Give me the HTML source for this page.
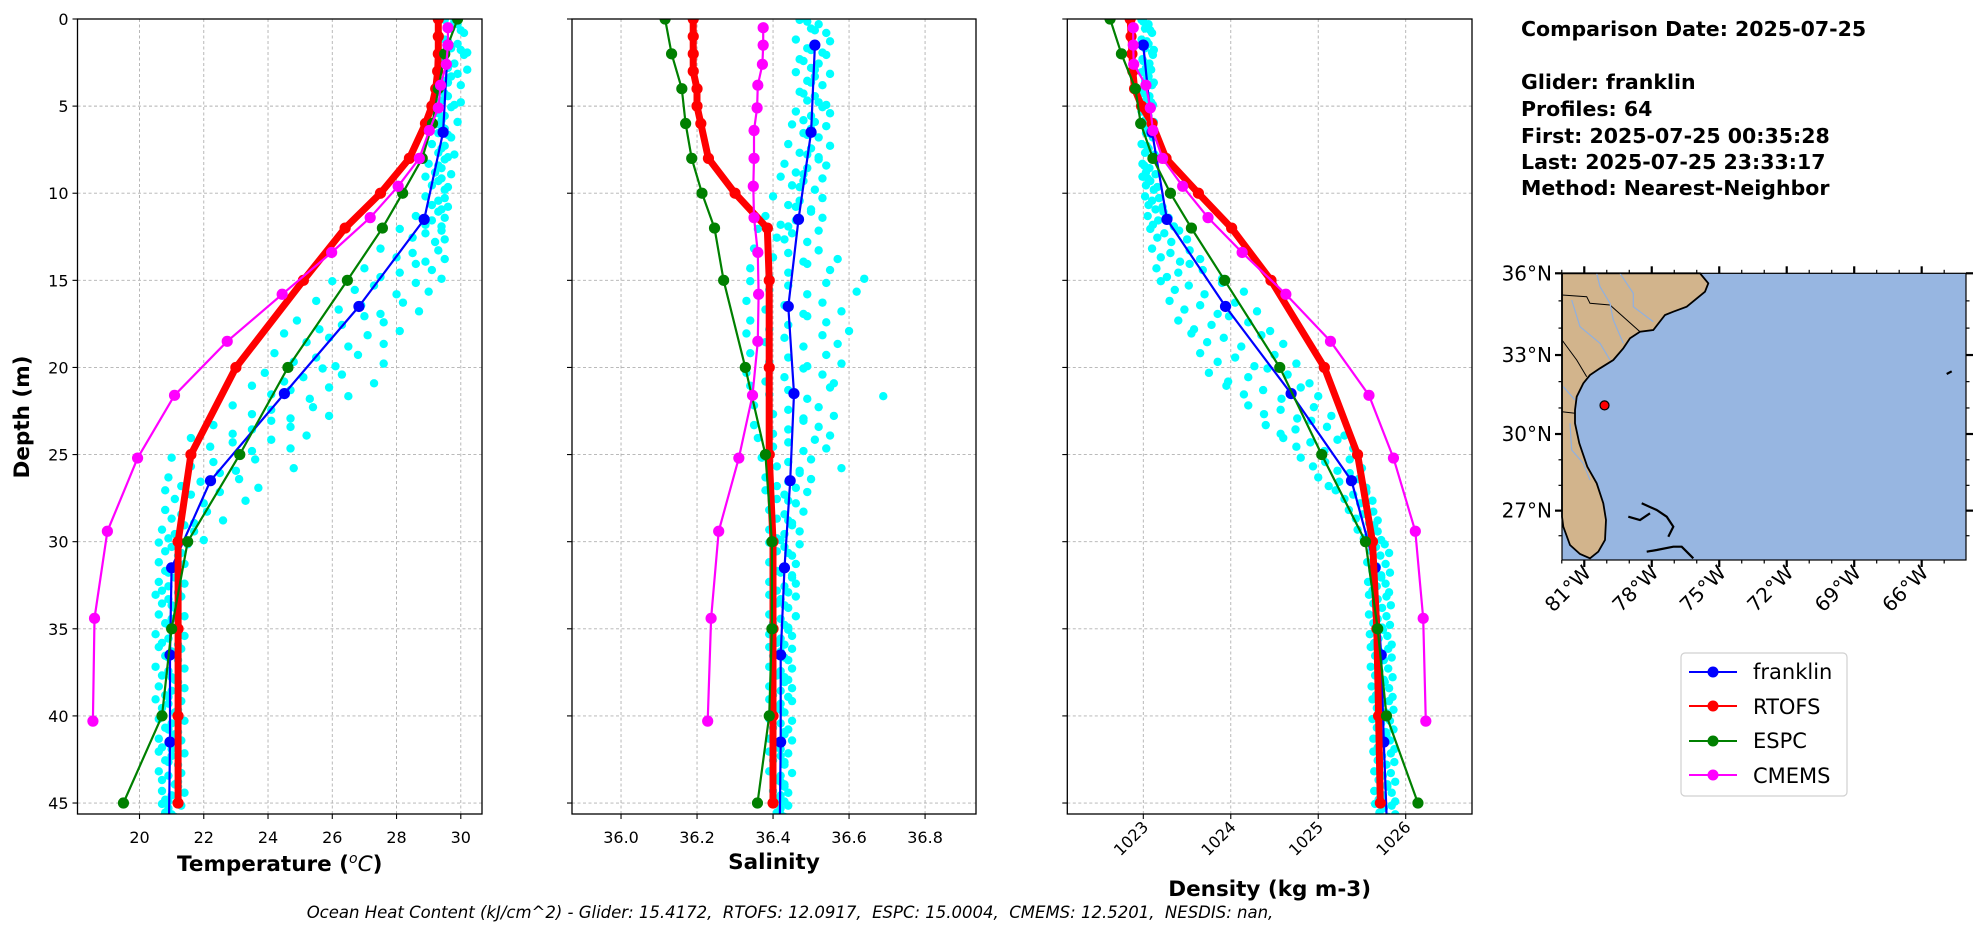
<!DOCTYPE html>
<html><head><meta charset="utf-8"><title>Glider vs Models</title>
<style>
html,body{margin:0;padding:0;background:#fff;}
svg{display:block;font-family:"DejaVu Sans","Liberation Sans",sans-serif;}
</style></head>
<body>
<svg id="fig" width="1978" height="934" viewBox="0 0 1978 934" xmlns="http://www.w3.org/2000/svg">
<rect x="0" y="0" width="1978" height="934" fill="#fff"/>
<g id="panels"></g>
<g id="map"></g>
<g font-weight="bold" font-size="20.5" fill="#000">
<text x="1521" y="36">Comparison Date: 2025-07-25</text>
<text x="1521" y="89">Glider: franklin</text>
<text x="1521" y="116">Profiles: 64</text>
<text x="1521" y="143">First: 2025-07-25 00:35:28</text>
<text x="1521" y="169">Last: 2025-07-25 23:33:17</text>
<text x="1521" y="195">Method: Nearest-Neighbor</text>
</g>
<g>
<rect x="1681" y="653" width="166" height="143" rx="4" fill="#fff" stroke="#d0d0d0" stroke-width="1.2"/>
<g><line x1="1689" y1="672" x2="1737" y2="672" stroke="#0000ff" stroke-width="2"/><circle cx="1713" cy="672" r="5.5" fill="#0000ff"/><text x="1753" y="679" font-size="21">franklin</text></g>
<g><line x1="1689" y1="706" x2="1737" y2="706" stroke="#ff0000" stroke-width="2"/><circle cx="1713" cy="706" r="5.5" fill="#ff0000"/><text x="1753" y="714" font-size="21">RTOFS</text></g>
<g><line x1="1689" y1="741" x2="1737" y2="741" stroke="#008000" stroke-width="2"/><circle cx="1713" cy="741" r="5.5" fill="#008000"/><text x="1753" y="748" font-size="21">ESPC</text></g>
<g><line x1="1689" y1="775" x2="1737" y2="775" stroke="#ff00ff" stroke-width="2"/><circle cx="1713" cy="775" r="5.5" fill="#ff00ff"/><text x="1753" y="783" font-size="21">CMEMS</text></g>
</g>
<text x="790" y="918" text-anchor="middle" font-size="16.5" font-style="italic" style="white-space:pre" xml:space="preserve">Ocean Heat Content (kJ/cm^2) - Glider: 15.4172,  RTOFS: 12.0917,  ESPC: 15.0004,  CMEMS: 12.5201,  NESDIS: nan,</text>
</svg>
<script>
// ---------- data ----------
const rtofsDepth = [0,1,2,3,4,5,6,8,10,12,15,20,25,30,35,40,45];
const rtofsTemp  = [29.3,29.3,29.3,29.28,29.22,29.1,28.9,28.4,27.5,26.4,25.1,23.0,21.6,21.2,21.2,21.2,21.2];
const rtofsSal   = [36.19,36.19,36.19,36.19,36.2,36.2,36.21,36.23,36.3,36.385,36.39,36.39,36.39,36.4,36.4,36.4,36.4];
const rtofsDen   = [1022.85,1022.86,1022.87,1022.88,1022.9,1022.98,1023.1,1023.26,1023.63,1024.01,1024.46,1025.07,1025.45,1025.62,1025.67,1025.69,1025.71];

const gliderDepth = [1.5,6.5,11.5,16.5,21.5,26.5,31.5,36.5,41.5,45.6];
const gliderTemp  = [29.6,29.45,28.86,26.83,24.51,22.21,21.0,20.95,20.95,20.92];
const gliderSal   = [36.51,36.5,36.467,36.44,36.455,36.445,36.43,36.42,36.42,36.418];
const gliderDen   = [1023.0,1023.1,1023.27,1023.94,1024.69,1025.38,1025.65,1025.72,1025.75,1025.78];

const espcDepth = [0,2,4,6,8,10,12,15,20,25,30,35,40,45];
const espcTemp  = [29.9,29.5,29.3,29.12,28.8,28.19,27.56,26.47,24.62,23.12,21.5,21.0,20.7,19.5];
const espcSal   = [36.116,36.133,36.16,36.17,36.186,36.213,36.246,36.27,36.327,36.38,36.397,36.397,36.39,36.359];
const espcDen   = [1022.62,1022.75,1022.91,1022.97,1023.11,1023.31,1023.55,1023.93,1024.56,1025.04,1025.54,1025.68,1025.78,1026.14];

const cmemsDepth = [0.5,1.5,2.6,3.8,5.1,6.4,8.0,9.6,11.4,13.4,15.8,18.5,21.6,25.2,29.4,34.4,40.3];
const cmemsTemp  = [29.6,29.6,29.55,29.37,29.3,29.02,28.71,28.05,27.18,25.98,24.44,22.73,21.09,19.94,19.0,18.6,18.55];
const cmemsSal   = [36.374,36.374,36.372,36.36,36.358,36.35,36.35,36.348,36.35,36.36,36.362,36.36,36.346,36.31,36.257,36.237,36.228];
const cmemsDen   = [1022.885,1022.885,1022.89,1023.03,1023.08,1023.11,1023.22,1023.45,1023.74,1024.13,1024.63,1025.14,1025.58,1025.86,1026.11,1026.2,1026.23];

// glider scatter: one row per 1-m depth bin (0..45), six samples each
const scatterBins = [0,1,2,3,4,5,6,7,8,9,10,11,12,13,14,15,16,17,18,19,20,21,22,23,24,25,26,27,28,29,30,31,32,33,34,35,36,37,38,39,40,41,42,43,44,45];
const scatterTemp = [
[29.5,29.7,29.9,30.1,29.8,30.0],[29.5,29.7,29.9,30.2,29.6,30.0],[29.4,29.6,29.8,30.1,29.5,30.2],[29.3,29.5,29.7,30.0,29.9,29.6],
[29.3,29.4,29.6,29.8,29.5,30.0],[29.2,29.4,29.5,29.7,29.3,29.9],[29.2,29.3,29.5,29.7,29.4,29.6],[29.1,29.3,29.4,29.6,29.5,29.8],
[29.0,29.2,29.4,29.5,29.3,29.7],[28.9,29.1,29.3,29.5,29.4,29.6],[28.9,29.1,29.3,29.4,29.5,29.6],[28.6,28.9,29.1,29.3,29.5,29.4],
[28.1,28.5,28.9,29.2,29.4,29.5],[27.5,28.0,28.5,28.9,29.3,29.5],[27.0,27.5,28.1,28.6,29.1,29.4],[26.0,26.7,27.3,28.0,28.6,29.0],
[25.5,26.2,26.9,27.5,28.2,28.7],[24.9,25.6,26.3,27.0,27.6,28.1],[24.5,25.2,25.9,26.5,27.1,27.6],[24.2,24.8,25.5,26.1,26.8,27.6],
[23.9,24.5,25.1,25.7,26.3,27.3],[23.5,24.1,24.7,25.3,25.9,26.5],[22.9,23.5,24.1,24.7,25.4,25.9],[22.3,22.9,23.5,24.1,24.7,25.2],
[21.6,22.2,22.9,23.5,24.1,24.7],[21.0,21.6,22.3,23.0,23.6,24.8],[20.9,21.3,21.9,22.5,23.1,23.7],[20.8,21.1,21.6,22.0,22.5,23.3],
[20.8,21.0,21.3,21.7,22.1,22.6],[20.7,20.9,21.1,21.4,21.7,22.0],[20.6,20.8,21.0,21.2,21.5,21.3],[20.6,20.8,21.0,21.2,21.4,20.9],
[20.6,20.7,20.9,21.1,21.4,21.2],[20.5,20.7,20.9,21.1,21.3,21.0],[20.6,20.8,21.0,21.2,21.4,20.9],[20.5,20.7,20.9,21.1,21.4,21.2],
[20.6,20.8,21.0,21.2,21.3,20.9],[20.5,20.7,20.9,21.1,21.4,21.0],[20.6,20.8,21.0,21.2,21.4,20.9],[20.5,20.7,20.9,21.1,21.3,21.2],
[20.6,20.8,21.0,21.2,21.4,20.9],[20.6,20.7,20.9,21.1,21.3,21.0],[20.6,20.8,21.0,21.2,21.4,20.9],[20.6,20.7,20.9,21.1,21.3,21.2],
[20.7,20.8,21.0,21.2,21.4,20.9],[20.7,20.8,20.9,21.1,21.3,21.0]];
const scatterSal = [
[36.47,36.50,36.52,36.54,36.49,36.51],[36.46,36.49,36.51,36.53,36.55,36.50],[36.47,36.50,36.52,36.54,36.48,36.51],[36.46,36.49,36.51,36.53,36.55,36.50],
[36.47,36.49,36.51,36.54,36.48,36.52],[36.46,36.48,36.50,36.53,36.55,36.51],[36.45,36.48,36.50,36.52,36.54,36.49],[36.44,36.47,36.50,36.52,36.55,36.49],
[36.43,36.46,36.49,36.52,36.54,36.48],[36.42,36.45,36.48,36.51,36.53,36.47],[36.40,36.44,36.47,36.50,36.53,36.46],[36.38,36.42,36.46,36.50,36.53,36.44],
[36.36,36.41,36.45,36.49,36.52,36.43],[36.35,36.40,36.44,36.48,36.52,36.57],[36.34,36.39,36.44,36.49,36.55,36.64],[36.34,36.39,36.44,36.49,36.54,36.62],
[36.33,36.38,36.43,36.48,36.53,36.58],[36.34,36.39,36.44,36.49,36.54,36.60],[36.33,36.38,36.43,36.48,36.53,36.57],[36.34,36.39,36.44,36.49,36.54,36.58],
[36.33,36.38,36.43,36.48,36.53,36.56],[36.34,36.39,36.44,36.49,36.55,36.69],[36.35,36.40,36.44,36.48,36.52,36.56],[36.35,36.40,36.44,36.48,36.52,36.55],
[36.36,36.40,36.44,36.48,36.51,36.54],[36.37,36.41,36.44,36.47,36.50,36.58],[36.38,36.41,36.44,36.47,36.50,36.46],[36.38,36.41,36.43,36.46,36.49,36.44],
[36.39,36.41,36.43,36.45,36.48,36.44],[36.39,36.41,36.43,36.45,36.47,36.42],[36.39,36.41,36.43,36.45,36.47,36.44],[36.39,36.41,36.43,36.45,36.46,36.42],
[36.39,36.41,36.43,36.45,36.46,36.44],[36.39,36.41,36.42,36.44,36.46,36.43],[36.39,36.40,36.42,36.44,36.46,36.43],[36.39,36.41,36.42,36.44,36.45,36.43],
[36.39,36.40,36.42,36.44,36.45,36.43],[36.39,36.41,36.42,36.44,36.45,36.43],[36.39,36.40,36.42,36.43,36.45,36.44],[36.39,36.41,36.42,36.43,36.45,36.42],
[36.39,36.40,36.42,36.43,36.45,36.44],[36.39,36.41,36.42,36.43,36.45,36.42],[36.39,36.40,36.42,36.43,36.44,36.43],[36.39,36.41,36.42,36.43,36.45,36.42],
[36.40,36.41,36.42,36.43,36.44,36.43],[36.40,36.41,36.42,36.43,36.44,36.42]];
const scatterDen = [
[1022.98,1023.02,1023.06,1023.10,1023.0,1023.08],[1022.98,1023.02,1023.06,1023.10,1023.04,1023.12],[1022.99,1023.03,1023.07,1023.11,1023.0,1023.09],[1022.98,1023.02,1023.06,1023.10,1023.04,1023.12],
[1022.99,1023.03,1023.07,1023.11,1023.01,1023.09],[1022.98,1023.02,1023.06,1023.10,1023.04,1023.12],[1022.99,1023.03,1023.07,1023.11,1023.01,1023.10],[1022.98,1023.02,1023.06,1023.10,1023.04,1023.13],
[1022.99,1023.03,1023.07,1023.11,1023.01,1023.14],[1022.99,1023.03,1023.08,1023.12,1023.05,1023.16],[1023.02,1023.06,1023.10,1023.14,1023.18,1023.22],[1023.05,1023.11,1023.17,1023.23,1023.29,1023.35],
[1023.08,1023.16,1023.24,1023.32,1023.41,1023.50],[1023.10,1023.20,1023.31,1023.42,1023.53,1023.65],[1023.15,1023.27,1023.40,1023.53,1023.68,1023.90],[1023.20,1023.36,1023.52,1023.70,1023.90,1024.15],
[1023.30,1023.47,1023.65,1023.85,1024.05,1024.30],[1023.40,1023.58,1023.78,1023.98,1024.20,1024.45],[1023.55,1023.73,1023.92,1024.12,1024.35,1024.60],[1023.65,1023.85,1024.05,1024.27,1024.50,1024.75],
[1023.75,1023.97,1024.20,1024.42,1024.65,1024.90],[1023.95,1024.15,1024.37,1024.58,1024.80,1025.00],[1024.20,1024.38,1024.57,1024.76,1024.95,1025.15],[1024.40,1024.57,1024.74,1024.92,1025.10,1025.30],
[1024.60,1024.75,1024.91,1025.07,1025.22,1025.40],[1024.80,1024.94,1025.08,1025.22,1025.36,1025.50],[1025.00,1025.12,1025.24,1025.36,1025.46,1025.55],[1025.20,1025.30,1025.40,1025.48,1025.55,1025.62],
[1025.35,1025.43,1025.51,1025.58,1025.63,1025.68],[1025.45,1025.52,1025.58,1025.64,1025.68,1025.72],[1025.55,1025.61,1025.66,1025.71,1025.76,1025.81],[1025.56,1025.62,1025.67,1025.72,1025.77,1025.82],
[1025.57,1025.62,1025.67,1025.72,1025.77,1025.81],[1025.58,1025.63,1025.68,1025.73,1025.78,1025.83],[1025.58,1025.63,1025.68,1025.73,1025.78,1025.82],[1025.59,1025.64,1025.69,1025.74,1025.79,1025.84],
[1025.60,1025.65,1025.70,1025.75,1025.80,1025.84],[1025.60,1025.65,1025.70,1025.75,1025.80,1025.85],[1025.61,1025.66,1025.71,1025.76,1025.81,1025.85],[1025.62,1025.67,1025.72,1025.77,1025.81,1025.86],
[1025.62,1025.67,1025.72,1025.77,1025.82,1025.86],[1025.63,1025.68,1025.73,1025.78,1025.82,1025.87],[1025.63,1025.68,1025.73,1025.78,1025.83,1025.87],[1025.64,1025.69,1025.74,1025.79,1025.83,1025.88],
[1025.64,1025.69,1025.74,1025.79,1025.84,1025.88],[1025.65,1025.70,1025.75,1025.80,1025.84,1025.88]];

const depthTicks = [0,5,10,15,20,25,30,35,40,45];
const tempTicks = [20,22,24,26,28,30];
const salTicks = [36.0,36.2,36.4,36.6,36.8];
const denTicks = [1023,1024,1025,1026];
const latTicks = [36,33,30,27];
const lonTicks = [-81,-78,-75,-72,-69,-66];
const gliderLon = [-80.1];
const gliderLat = [31.1];

// ---------- helpers ----------
const NS = "http://www.w3.org/2000/svg";
function el(tag, attrs, parent){
  const e = document.createElementNS(NS, tag);
  for (const k in attrs) e.setAttribute(k, attrs[k]);
  parent.appendChild(e);
  return e;
}
const TOP = 19, BOT = 814, D0 = 0, D1 = 45.63;
function yD(d){ return TOP + (d - D0) / (D1 - D0) * (BOT - TOP); }
const depthJitter = [0.05,0.55,0.3,0.8,0.15,0.65];

const panelsG = document.getElementById('panels');

function drawPanel(opt){
  const g = el('g', {}, panelsG);
  
  
  const L = opt.left, R = opt.right;
  const xS = v => L + (v - opt.xmin) / (opt.xmax - opt.xmin) * (R - L);
  depthTicks.forEach(d => {
    const ln = el('line', {x1:L, x2:R, y1:yD(d), y2:yD(d), stroke:'#b0b0b0', 'stroke-width':0.9, 'stroke-dasharray':'3,2.5'}, g);
    
    
  });
  opt.ticks.forEach(t => {
    const ln = el('line', {x1:xS(t), x2:xS(t), y1:TOP, y2:BOT, stroke:'#b0b0b0', 'stroke-width':0.9, 'stroke-dasharray':'3,2.5'}, g);
    
    
  });
  const cid = 'clip-' + opt.name;
  const cp = el('clipPath', {id:cid}, g);
  el('rect', {x:L, y:TOP, width:R-L, height:BOT-TOP}, cp);
  const plot = el('g', {'clip-path':'url(#'+cid+')'}, g);
  const sg = el('g', {fill:'#00ffff'}, plot);
  
  
  scatterBins.forEach((b, i) => {
    opt.scatter[i].forEach((v, k) => {
      const off = (depthJitter[k] + (i % 3) * 0.13) % 1;
      const c = el('circle', {cx:xS(v), cy:yD(b + off), r:4.2}, sg);
      
      
    });
  });
  const series = [
    {name:'franklin-line', d:gliderDepth, v:opt.glider, c:'#0000ff', w:2.2, r:5.6, skipLast:true},
    {name:'rtofs-line', d:rtofsDepth, v:opt.rtofs, c:'#ff0000', w:7, r:5.6},
    {name:'espc-line', d:espcDepth, v:opt.espc, c:'#008000', w:2.2, r:5.6},
    {name:'cmems-line', d:cmemsDepth, v:opt.cmems, c:'#ff00ff', w:2.2, r:5.6}
  ];
  series.forEach(s => {
    const sgp = el('g', {}, plot);
    
    
    const pts = s.v.map((v, i) => xS(v).toFixed(1) + ',' + yD(s.d[i]).toFixed(1)).join(' ');
    el('polyline', {points:pts, fill:'none', stroke:s.c, 'stroke-width':s.w, 'stroke-linejoin':'round', 'stroke-linecap':'round'}, sgp);
    s.v.forEach((v, i) => {
      if (s.skipLast && i === s.v.length - 1) return;
      const m = el('circle', {cx:xS(v), cy:yD(s.d[i]), r:s.r, fill:s.c}, sgp);
      
      
    });
  });
  const fr = el('rect', {x:L, y:TOP, width:R-L, height:BOT-TOP, fill:'none', stroke:'#000', 'stroke-width':1.3}, g);
  
  
  depthTicks.forEach(d => {
    el('line', {x1:L-5, x2:L, y1:yD(d), y2:yD(d), stroke:'#000', 'stroke-width':1.1}, g);
    if (opt.yLabels) {
      const t = el('text', {x:L-9, y:yD(d)+6, 'text-anchor':'end', 'font-size':16}, g);
      t.textContent = d;
      
      
    }
  });
  opt.ticks.forEach(v => {
    el('line', {x1:xS(v), x2:xS(v), y1:BOT, y2:BOT+5, stroke:'#000', 'stroke-width':1.1}, g);
    let t;
    if (opt.rotate) {
      t = el('text', {x:xS(v)+6, y:BOT+14, 'text-anchor':'end', 'font-size':16, transform:'rotate(-45 '+(xS(v)+6)+' '+(BOT+14)+')'}, g);
    } else {
      t = el('text', {x:xS(v), y:BOT+29, 'text-anchor':'middle', 'font-size':16}, g);
    }
    t.textContent = opt.fmt(v);
    
    
  });
  const xl = el('text', {x:(L+R)/2, y:opt.labelY, 'text-anchor':'middle', 'font-size':21.5, 'font-weight':'bold'}, g);
  xl.innerHTML = opt.label;
  
  
}

drawPanel({name:'temperature-panel', left:77.5, right:482, xmin:18.07, xmax:30.66, ticks:tempTicks, fmt:v=>String(v),
  scatter:scatterTemp, glider:gliderTemp, rtofs:rtofsTemp, espc:espcTemp, cmems:cmemsTemp, yLabels:true,
  label:'Temperature (<tspan font-style="italic" font-weight="normal" dy="-8" font-size="14">o</tspan><tspan dy="8" font-style="italic" font-weight="normal">C</tspan>)', labelY:871});
drawPanel({name:'salinity-panel', left:572, right:976, xmin:35.871, xmax:36.934, ticks:salTicks, fmt:v=>v.toFixed(1),
  scatter:scatterSal, glider:gliderSal, rtofs:rtofsSal, espc:espcSal, cmems:cmemsSal, yLabels:false,
  label:'Salinity', labelY:869});
drawPanel({name:'density-panel', left:1067.3, right:1472, xmin:1022.131, xmax:1026.758, ticks:denTicks, fmt:v=>String(v),
  scatter:scatterDen, glider:gliderDen, rtofs:rtofsDen, espc:espcDen, cmems:cmemsDen, yLabels:false, rotate:true,
  label:'Density (kg m-3)', labelY:896});

const yt = el('text', {x:0, y:0, 'text-anchor':'middle', 'font-size':21.5, 'font-weight':'bold', transform:'translate(29,417) rotate(-90)'}, panelsG);
yt.textContent = 'Depth (m)';



// ---------- map ----------
const mapG = document.getElementById('map');
const ML = 1562, MR = 1966, MT = 273.3, MB = 560;
const LON0 = -81.99, LON1 = -64.03;
function merc(lat){ return Math.log(Math.tan(Math.PI/4 + lat*Math.PI/360)); }
const mx = lon => ML + (lon - LON0) / (LON1 - LON0) * (MR - ML);
const my = lat => MT + (merc(36) - merc(lat)) * 1286;
const ocean = el('rect', {x:ML, y:MT, width:MR-ML, height:MB-MT, fill:'#97b6e1'}, mapG);


const P = (a) => a.map(p => (1500 + p[0]/3).toFixed(1) + ',' + (250 + p[1]/3).toFixed(1)).join(' ');
const land = el('polygon', {points:P([[186,70],[600,70],[625,100],[615,125],[560,170],[520,185],[495,195],[460,240],[420,245],[390,265],[370,295],[340,330],[300,355],[270,375],[250,400],[230,440],[225,480],[225,520],[238,580],[262,650],[290,700],[310,760],[318,810],[315,870],[295,905],[270,925],[240,912],[210,885],[190,830],[186,800]]), fill:'#d2b48c', stroke:'#000', 'stroke-width':1.8}, mapG);


[[[186,135],[260,140],[270,160],[330,165],[420,245]],[[186,270],[230,330],[260,380]],[[186,485],[225,490]]].forEach(b => {
  const l = el('polyline', {points:P(b), fill:'none', stroke:'#000', 'stroke-width':1}, mapG);
  
  
});
[[[290,70],[300,110],[330,160],[340,210],[370,280]],[[360,70],[400,130],[400,170],[460,215]],[[215,150],[240,230],[300,280],[330,330]],[[190,410],[225,450]],[[210,520],[215,600],[250,640],[270,690]]].forEach(r => {
  const l = el('polyline', {points:P(r), fill:'none', stroke:'#8fb0e0', 'stroke-width':1.2}, mapG);
  
  
});
[[[425,760],[470,780],[500,800],[520,830],[505,860]],[[385,800],[420,810],[450,790]],[[440,905],[470,900],[520,890],[545,890],[580,925]],[[1340,372],[1355,364]]].forEach(r => {
  const l = el('polyline', {points:P(r), fill:'none', stroke:'#000', 'stroke-width':2.2}, mapG);
  
  
});
gliderLon.forEach((lon, i) => {
  const c = el('circle', {cx:mx(lon), cy:my(gliderLat[i]), r:4.5, fill:'#ff0000', stroke:'#000', 'stroke-width':1.2}, mapG);
  
  
});
el('rect', {x:ML, y:MT, width:MR-ML, height:MB-MT, fill:'none', stroke:'#000', 'stroke-width':1.2}, mapG);
for (let lon = -82; lon <= -64; lon++) {
  const x = mx(lon); if (x < ML - 0.5 || x > MR + 0.5) continue;
  const major = lonTicks.includes(lon);
  const len = major ? 7 : 3.5;
  el('line', {x1:x, x2:x, y1:MB, y2:MB+len, stroke:'#000', 'stroke-width':major?2.2:1.2}, mapG);
  el('line', {x1:x, x2:x, y1:MT, y2:MT-len, stroke:'#000', 'stroke-width':major?2.2:1.2}, mapG);
}
for (let lat = 25; lat <= 36; lat++) {
  const y = my(lat); if (y < MT - 0.5 || y > MB + 0.5) continue;
  const major = latTicks.includes(lat);
  const len = major ? 7 : 3.5;
  el('line', {x1:ML-len, x2:ML, y1:y, y2:y, stroke:'#000', 'stroke-width':major?2.2:1.2}, mapG);
  el('line', {x1:MR, x2:MR+len, y1:y, y2:y, stroke:'#000', 'stroke-width':major?2.2:1.2}, mapG);
}
latTicks.forEach(lat => {
  const t = el('text', {x:ML-10, y:my(lat)+7, 'text-anchor':'end', 'font-size':20}, mapG);
  t.textContent = lat + '°N';
  
  
});
lonTicks.forEach(lon => {
  const x = mx(lon) + 8, y = MB + 14;
  const t = el('text', {x:x, y:y, 'text-anchor':'end', 'font-size':20, transform:'rotate(-45 '+x+' '+y+')'}, mapG);
  t.textContent = (-lon) + '°W';
  
  
});
</script>
</body></html>
